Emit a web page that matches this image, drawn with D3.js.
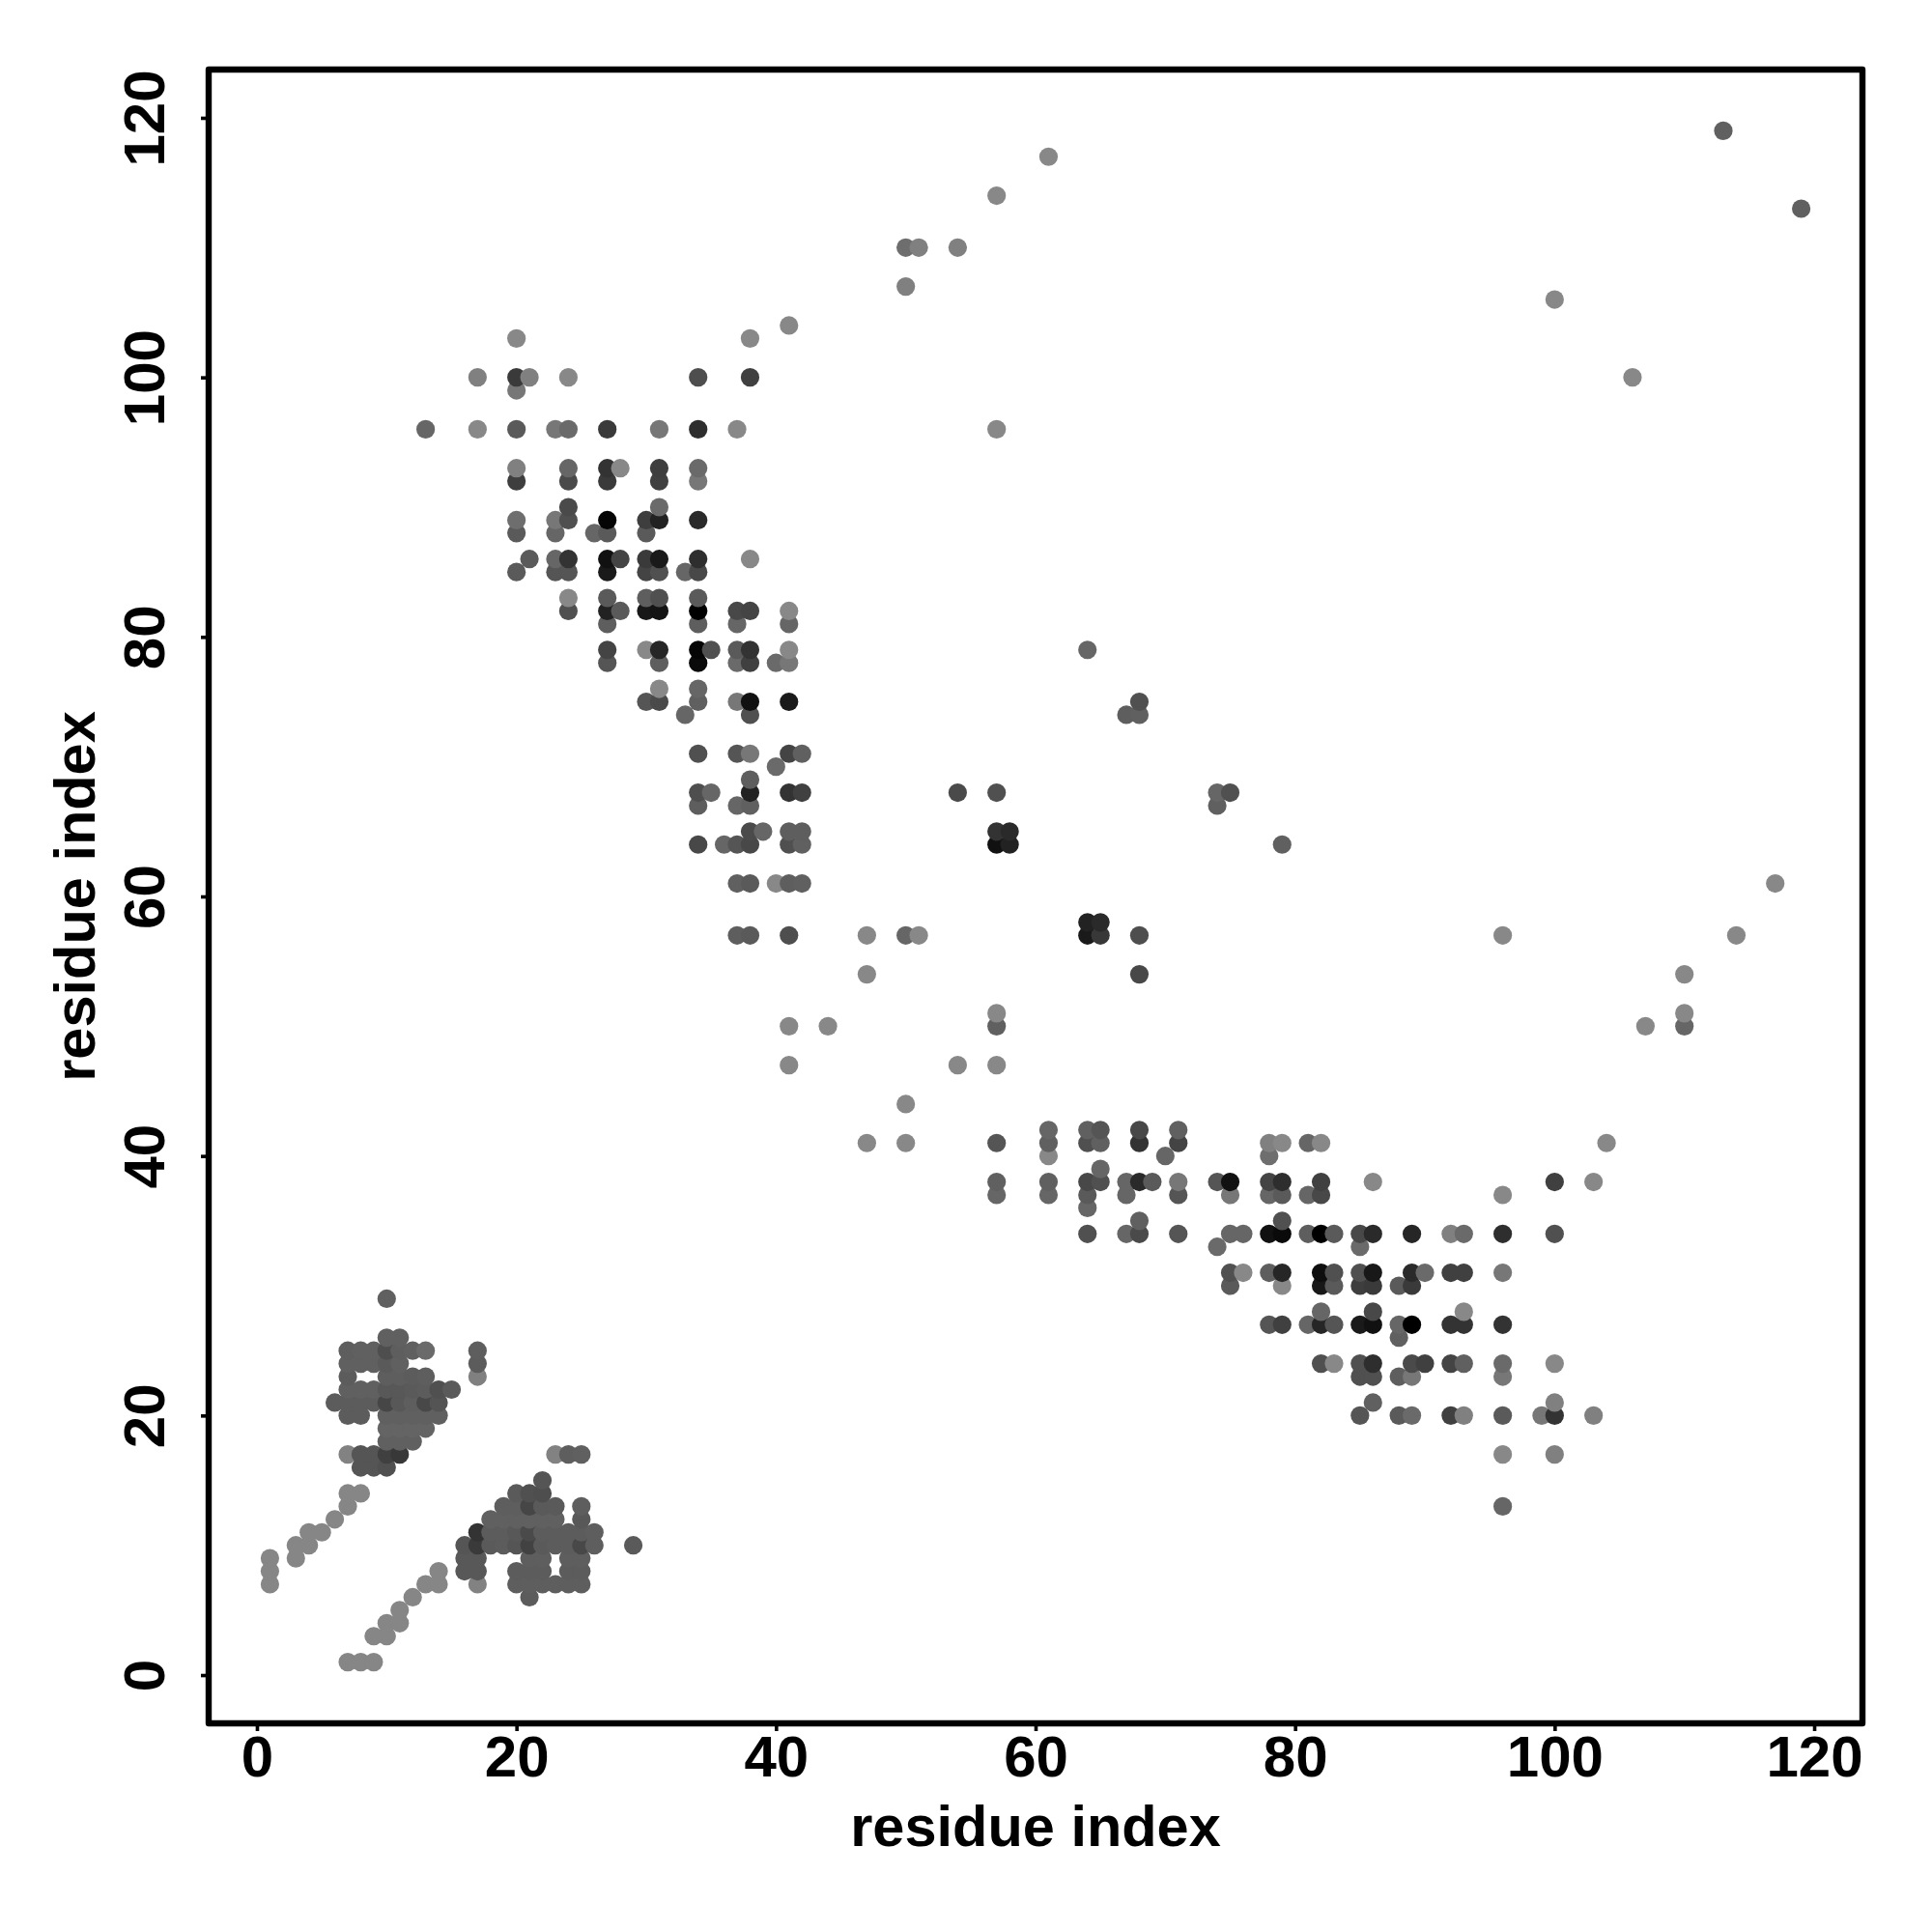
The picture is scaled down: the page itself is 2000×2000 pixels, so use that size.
<!DOCTYPE html>
<html>
<head>
<meta charset="utf-8">
<script src="https://cdn.jsdelivr.net/npm/d3@7"></script>
<style>
html,body{margin:0;padding:0;background:#fff}
svg{display:block}
text{font-family:"Liberation Sans",Arial,sans-serif;font-weight:bold;fill:#000}
</style>
</head>
<body>
<svg id="chart" width="2000" height="2000"></svg>
<script>
const xDomain = [-3.72, 123.72];
const yDomain = [-3.72, 123.72];
const tickValues = [0, 20, 40, 60, 80, 100, 120];
const axisTitle = "residue index";

const rowY = [1,3,4,5,6,7,8,9,10,11,12,13,14,15,16,17,18,19,20,21,22,23,24,25,26,27,28,29,30,31,33,34,35,36,37,38,39,40,41,42,44,47,50,51,54,57,58,61,64,65,67,68,69,70,71,74,75,76,78,79,81,82,83,85,86,88,89,90,92,93,96,99,100,103,104,106,107,110,113,114,117,119];

const rowX = [
[7,8,9],
[9,10],
[10,11],
[11],
[12,21],
[1,13,14,17,20,21,22,23,24,25],
[1,14,16,17,20,21,22,24,25],
[1,3,16,17,21,22,24,25],
[3,4,16,17,18,19,20,21,22,23,24,25,26,29],
[4,5,17,18,19,20,21,22,23,24,25,26],
[6,18,19,20,21,22,23,25],
[7,19,20,21,22,23,25,96],
[7,8,20,21,22],
[22],
[8,9,10],
[7,8,9,10,11,23,24,25,96,100],
[10,11,12],
[10,11,12,13],
[7,8,10,11,12,13,14,85,88,89,92,93,96,99,100,103],
[6,7,8,9,10,11,12,13,14,86,100],
[7,8,9,10,11,12,13,14,15],
[7,10,11,12,13,17,85,86,88,89,96],
[7,8,9,10,11,17,82,83,85,86,89,90,92,93,96,100],
[7,8,9,10,11,12,13,17],
[10,11,88],
[78,79,81,82,83,85,86,88,89,92,93,96],
[82,86,93],
[10],
[75,79,82,83,85,86,88,89],
[75,76,78,79,82,83,85,86,89,90,92,93,96],
[74,85],
[64,67,68,71,75,76,78,79,81,82,83,85,86,89,92,93,96,100],
[68,79],
[64],
[57,61,64,67,71,75,78,79,81,82,96],
[57,61,64,65,67,68,69,71,74,75,78,79,82,86,100,103],
[65],
[61,70,78],
[47,50,57,61,64,65,68,71,78,79,81,82,104],
[61,64,65,68,71],
[50],
[41,54,57],
[41,44,57,107,110],
[57,110],
[47,68,110],
[37,38,41,47,50,51,64,65,68,96,114],
[64,65],
[37,38,40,41,42,117],
[34,36,37,38,41,42,57,58,79],
[38,39,41,42,57,58],
[34,37,38,74],
[34,35,38,41,42,54,57,74,75],
[38],
[40],
[34,37,38,41,42],
[33,38,67,68],
[30,31,34,37,38,41,68],
[31,34],
[27,31,34,37,38,40,41],
[27,30,31,34,35,37,38,41,64],
[27,34,37,41],
[24,27,28,30,31,34,37,38,41],
[24,27,30,31,34],
[20,23,24,27,30,31,33,34],
[21,23,24,27,28,30,31,34,38],
[20,23,26,27,30],
[20,23,24,27,30,31,34],
[24,31],
[20,24,27,31,34],
[20,24,27,28,31,34],
[13,17,20,23,24,27,31,34,37,57],
[20],
[17,20,21,24,34,38,106],
[20,38],
[41],
[100],
[50],
[50,51,54],
[119],
[57],
[61],
[113]
];

const rowGrey = [
[134,134,134],
[134,134],
[134,134],
[134],
[134,92],
[134,134,134,130,94,94,94,94,94,94],
[134,134,88,88,92,92,92,92,92],
[134,134,88,88,94,94,94,94],
[134,134,85,58,90,92,85,66,90,92,92,72,94,90],
[134,134,51,92,92,88,74,92,92,92,92,94],
[134,96,96,96,96,96,96,88],
[134,94,94,70,90,90,94,102],
[134,134,90,80,78],
[85],
[85,85,80],
[130,85,85,64,56,130,94,96,136,128],
[96,96,96],
[100,100,100,100],
[92,92,96,96,96,96,96,85,90,106,64,128,90,119,51,128],
[92,92,92,92,70,88,94,72,84,96,128],
[96,96,96,88,88,90,92,80,90],
[92,94,94,92,94,128,80,80,94,119,119],
[96,96,96,90,96,92,80,136,80,46,74,64,68,96,106,136],
[94,96,96,78,94,96,106,94],
[96,96,96],
[85,64,102,38,85,26,17,102,0,51,51,51],
[102,72,136],
[96],
[90,136,24,90,62,58,90,58],
[80,136,94,38,14,80,80,24,42,106,64,64,119],
[106,106],
[80,102,74,85,102,102,17,10,94,0,90,72,42,38,128,106,46,80],
[96,80],
[102],
[102,102,90,102,85,119,102,90,102,72,136],
[96,96,72,80,102,42,90,119,85,17,68,46,64,136,64,136],
[102],
[136,102,110],
[136,136,85,96,80,96,51,68,128,136,102,136,136],
[102,96,85,72,96],
[136],
[136,136,136],
[136,136,96,136,102],
[136,136],
[136,72,136],
[94,90,78,136,102,136,26,56,78,136,136],
[34,42],
[96,90,136,94,96,136],
[72,102,85,72,80,96,17,34,96],
[74,102,94,94,51,42],
[94,102,96,96],
[78,102,34,51,64,74,80,102,80],
[94],
[106],
[80,85,119,68,96],
[102,80,94,96],
[85,74,96,119,17,26,80],
[136,102],
[85,94,10,106,64,106,119],
[68,136,38,5,80,90,51,136,102],
[94,94,102,102],
[80,34,90,24,20,0,72,68,136],
[136,90,94,80,90],
[90,85,85,26,68,80,102,72],
[90,102,51,17,68,58,26,46,136],
[90,102,102,90,90],
[110,119,80,5,62,34,42],
[74,106],
[62,74,58,64,119],
[128,102,51,136,62,106],
[102,136,90,119,106,58,119,46,136,136],
[119],
[128,58,128,136,78,64,136],
[136,136],
[136],
[136],
[128],
[110,128,128],
[96],
[136],
[136],
[96]
];

const frame = {left:216, right:1928, top:72, bottom:1784};
const svg = d3.select("#chart");
const x = d3.scaleLinear().domain(xDomain).range([frame.left, frame.right]);
const y = d3.scaleLinear().domain(yDomain).range([frame.bottom, frame.top]);

const points = [];
rowY.forEach((v, i) => rowX[i].forEach((h, j) => points.push({x:h, y:v, g:rowGrey[i][j]})));

svg.append("g").selectAll("circle").data(points).join("circle")
  .attr("cx", d => x(d.x)).attr("cy", d => y(d.y)).attr("r", 9.6)
  .attr("fill", d => d3.rgb(d.g, d.g, d.g));

const gx = svg.append("g").attr("transform", `translate(0,${frame.bottom})`)
  .call(d3.axisBottom(x).tickValues(tickValues).tickSize(8).tickFormat(d3.format("d")));
const gy = svg.append("g").attr("transform", `translate(${frame.left},0)`)
  .call(d3.axisLeft(y).tickValues(tickValues).tickSize(8).tickFormat(d3.format("d")));
gx.select(".domain").remove();
gy.select(".domain").remove();
svg.selectAll(".tick line").attr("stroke", "#000").attr("stroke-width", 3.6);
gx.selectAll("text").attr("font-size", 60).attr("y", 55).attr("dy", 0).attr("text-anchor", "middle");
gy.selectAll("text").attr("font-size", 60).attr("x", 0).attr("y", -46).attr("dy", 0)
  .attr("text-anchor", "middle").attr("transform", "rotate(-90)");

svg.append("rect").attr("x", frame.left).attr("y", frame.top)
  .attr("width", frame.right - frame.left).attr("height", frame.bottom - frame.top)
  .attr("fill", "none").attr("stroke", "#000").attr("stroke-width", 6.4).attr("stroke-linejoin", "round");

svg.append("text").attr("x", x(60)).attr("y", 1911).attr("text-anchor", "middle")
  .attr("font-size", 59.5).text(axisTitle);
svg.append("text").attr("transform", `translate(98,${y(60)}) rotate(-90)`).attr("text-anchor", "middle")
  .attr("font-size", 59.5).text(axisTitle);
</script>
</body>
</html>
